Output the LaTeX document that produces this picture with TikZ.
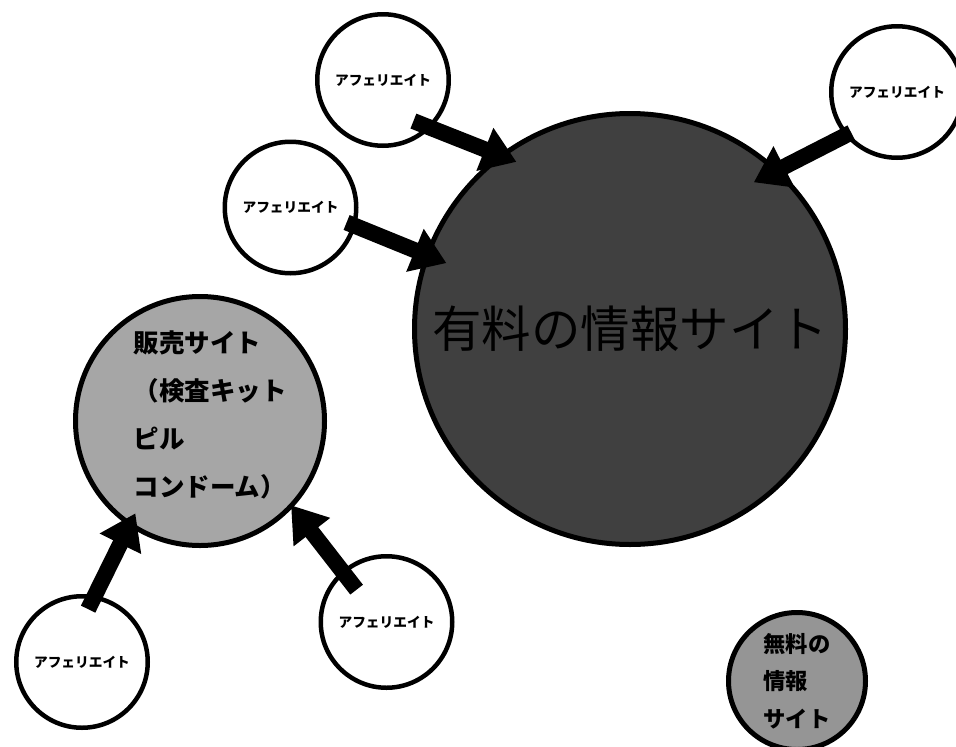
\documentclass[tikz,border=0pt]{standalone}
\usepackage{fontspec}
\setmainfont{Noto Sans CJK JP}
\usepackage{xcolor}
\definecolor{paidfill}{HTML}{404040}
\definecolor{salesfill}{HTML}{A6A6A6}
\definecolor{freefill}{HTML}{959595}
\usepackage{tikz}
\usetikzlibrary{arrows.meta}

\begin{document}
\begin{tikzpicture}[
  x=1pt, y=-1pt,
  ring/.style={circle, draw=black, line width=5pt, inner sep=0pt, align=left},
  aff/.style={ring, fill=white, line width=4.5pt, minimum size=131.5pt,
    font=\fontsize{13.7}{16}\selectfont\bfseries},
  push/.style={line width=16pt, -{Triangle[width=44pt, length=34pt]}}
]
  \useasboundingbox (0,0) rectangle (956,747);
  \node[ring, fill=paidfill, minimum size=431pt,
    font=\fontsize{49.5}{55}\selectfont] (p) at (630,329) {有料の情報サイト};
  \node[ring, fill=salesfill, minimum size=249pt] (s) at (200,421) {};
  \node[font=\fontsize{25.5}{48}\selectfont\bfseries, align=left]
    (st) at (210,415) {販売サイト\\（検査キット\\ピル\\コンドーム）};
  \node[ring, fill=freefill, minimum size=137pt,
    font=\fontsize{22.3}{37.5}\selectfont\bfseries] (f) at (797,681)
    {無料の\\情報\\サイト};
  \node[aff] (a1) at (383,80) {アフェリエイト};
  \node[aff] (a2) at (897,92) {アフェリエイト};
  \node[aff] (a3) at (290.5,207.5) {アフェリエイト};
  \node[aff] (a4) at (82,662) {アフェリエイト};
  \node[aff] (a5) at (386.5,622) {アフェリエイト};
  \draw[push, shorten <=-19pt, shorten >=-19pt] (a1.-45) -- (p.127);
  \draw[push, shorten <=-7pt, shorten >=-28pt] (a2.220) -- (p.47.5);
  \draw[push, shorten <=-10pt, shorten >=-23pt] (a3.-16) -- (p.160);
  \draw[push, shorten <=-15.5pt, shorten >=-14.5pt] (a4.79) -- (s.236);
  \draw[push, shorten <=-24pt, shorten >=-3pt] (a5.131) -- (s.-43);
\end{tikzpicture}
\end{document}
